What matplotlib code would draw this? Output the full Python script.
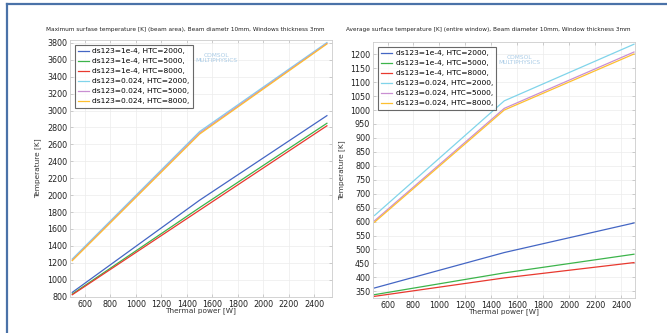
import matplotlib
matplotlib.use("Agg")
import matplotlib.pyplot as plt
from matplotlib.lines import Line2D

power = [500, 1500, 2500]

labels = ["ds123=1e-4, HTC=2000,", "ds123=1e-4, HTC=5000,", "ds123=1e-4, HTC=8000,",
          "ds123=0.024, HTC=2000,", "ds123=0.024, HTC=5000,", "ds123=0.024, HTC=8000,"]
colors = ["#4466c4", "#3cb44b", "#e8392f", "#80d4ea", "#c98fd2", "#fdbf2f"]

max_temp = [
    [850, 1940, 2940],
    [830, 1852, 2850],
    [822, 1822, 2820],
    [1245, 2752, 3805],
    [1232, 2735, 3795],
    [1225, 2722, 3788],
]
avg_temp = [
    [362, 489, 595],
    [338, 416, 483],
    [332, 398, 453],
    [622, 1033, 1236],
    [603, 1006, 1208],
    [598, 1000, 1201],
]

titles = ["Maximum surfase temperature [K] (beam area), Beam diametr 10mm, Windows thickness 3mm",
          "Average surface temperature [K] (entire window), Beam diameter 10mm, Window thickness 3mm"]
xticks = [600, 800, 1000, 1200, 1400, 1600, 1800, 2000, 2200, 2400]
yticks_left = list(range(800, 3801, 200))
yticks_right = list(range(350, 1201, 50))

fig = plt.figure(figsize=(6.67, 3.33), dpi=100)
W, H = 667, 333

def make_ax(x0, y0, x1, y1):
    return fig.add_axes([x0 / W, 1 - y1 / H, (x1 - x0) / W, (y1 - y0) / H])

axL = make_ax(70, 40, 332, 297)
axR = make_ax(373, 42, 635, 298)

for ax, data, title, yt, ylim, xlim, tpos in [
    (axL, max_temp, titles[0], yticks_left, (795, 3835), (482, 2540), (185, 29)),
    (axR, avg_temp, titles[1], yticks_right, (326, 1244), (488, 2508), (488, 30)),
]:
    for series, lab, col in zip(data, labels, colors):
        ax.plot(power, series, color=col, lw=0.9, label=lab)
    ax.set_xlim(*xlim)
    ax.set_ylim(*ylim)
    ax.set_xticks(xticks)
    ax.set_yticks(yt)
    ax.tick_params(direction="in", length=2.5, width=0.5, color="#bbbbbb",
                   labelsize=5.8, pad=2, top=True, right=True, labelcolor="#222222")
    ax.grid(True, color="#ececec", lw=0.5)
    ax.set_axisbelow(True)
    for s in ax.spines.values():
        s.set_color("#cccccc")
        s.set_linewidth(0.6)
    fig.text(tpos[0] / W, 1 - tpos[1] / H, title, fontsize=4.15, color="#222222",
             ha="center", va="center")
    ax.set_xlabel("Thermal power [W]", fontsize=5.3, labelpad=-1, color="#333333")
    ax.set_ylabel("Temperature [K]", fontsize=5.3, labelpad=4, color="#333333")
    leg = ax.legend(loc="upper left", fontsize=5.4, frameon=True, fancybox=False,
                    handlelength=1.5, handletextpad=0.45, labelspacing=0.5,
                    borderpad=0.45, borderaxespad=0.6)
    leg.get_frame().set_edgecolor("#444444")
    leg.get_frame().set_linewidth(0.8)
    ax.text(0.56, 0.93, "COMSOL\nMULTIPHYSICS", transform=ax.transAxes, fontsize=4.2,
            color="#a9cbe6", ha="center", va="center", linespacing=0.9)

# outer frame (screenshot window border)
fig.add_artist(Line2D([7 / W, 7 / W], [0, 1 - 4 / H], color="#4a72a8", lw=1.6))
fig.add_artist(Line2D([7 / W, 1], [1 - 4 / H, 1 - 4 / H], color="#4a72a8", lw=1.6))

fig.savefig("out.png", dpi=100, facecolor="white")
